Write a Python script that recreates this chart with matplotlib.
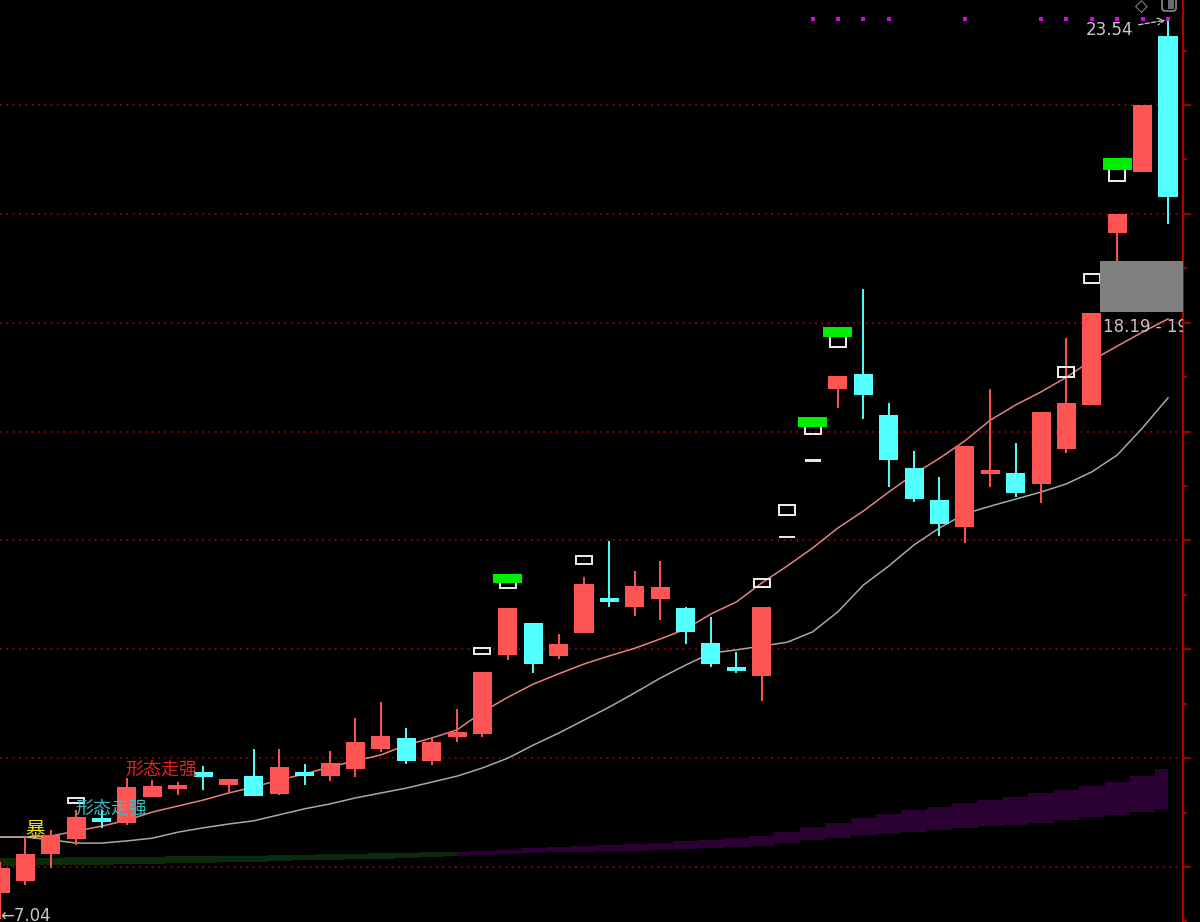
import numpy as np
import matplotlib.pyplot as plt
import matplotlib.transforms as mtransforms
from matplotlib.patches import Rectangle, FancyBboxPatch
from matplotlib.ticker import MultipleLocator

plt.rcParams['font.family'] = ['Noto Sans CJK SC', 'DejaVu Sans']

# 日K (元)
opens = [7.52, 7.74, 8.24, 8.51, 8.88, 8.81, 9.29, 9.45, 9.75, 9.51,
         9.67, 9.34, 9.73, 9.67, 9.80, 10.17, 10.37, 9.95, 10.39, 10.44,
         11.90, 12.48, 11.88, 12.30, 12.92, 12.78, 12.92, 12.76, 12.12, 11.67,
         11.51, 14.06, 15.47, 16.78, 17.05, 16.30, 15.33, 14.74, 14.25, 15.22,
         15.24, 15.04, 15.68, 16.49, 19.65, 20.77, 23.27]
closes = [7.98, 8.24, 8.59, 8.92, 8.85, 9.47, 9.49, 9.49, 9.65, 9.62,
          9.30, 9.84, 9.69, 9.91, 10.30, 10.41, 9.95, 10.30, 10.48, 11.58,
          12.76, 11.73, 12.10, 13.20, 12.89, 13.16, 13.14, 12.32, 11.73, 11.60,
          12.78, 14.06, 15.47, 17.02, 16.67, 15.48, 14.76, 14.30, 15.73, 15.29,
          14.87, 16.36, 16.53, 18.18, 20.00, 22.00, 20.31]
highs = [8.09, 8.55, 8.68, 9.05, 9.05, 9.63, 9.60, 9.56, 9.86, 9.62,
         10.17, 10.17, 9.89, 10.13, 10.74, 11.03, 10.55, 10.37, 10.90, 11.58,
         12.76, 12.48, 12.28, 13.33, 13.99, 13.44, 13.62, 12.78, 12.59, 11.95,
         12.78, 14.06, 15.47, 17.02, 18.62, 16.53, 15.64, 15.17, 15.73, 16.78,
         15.79, 16.36, 17.72, 18.18, 20.00, 22.00, 23.54]
lows = [7.04, 7.67, 7.98, 8.40, 8.72, 8.77, 9.29, 9.32, 9.41, 9.36,
        9.30, 9.32, 9.51, 9.58, 9.65, 10.11, 9.89, 9.87, 10.30, 10.39,
        11.80, 11.56, 11.82, 12.30, 12.78, 12.61, 12.54, 12.10, 11.67, 11.56,
        11.05, 14.06, 15.47, 16.43, 16.23, 14.98, 14.71, 14.08, 13.95, 14.98,
        14.80, 14.69, 15.61, 16.49, 19.14, 20.77, 19.81]

# 均线
ma_short = [8.55, 8.55, 8.57, 8.66, 8.75, 8.86, 9.01, 9.12, 9.23, 9.36,
            9.47, 9.60, 9.71, 9.84, 9.95, 10.06, 10.24, 10.37, 10.52, 10.85,
            11.12, 11.36, 11.55, 11.73, 11.88, 12.02, 12.19, 12.37, 12.65, 12.87,
            13.22, 13.53, 13.86, 14.23, 14.54, 14.89, 15.22, 15.51, 15.83, 16.21,
            16.49, 16.73, 17.00, 17.31, 17.57, 17.83, 18.07]
ma_long = [8.55, 8.55, 8.50, 8.44, 8.44, 8.48, 8.53, 8.64, 8.72, 8.79,
           8.85, 8.96, 9.07, 9.16, 9.27, 9.36, 9.45, 9.56, 9.67, 9.82,
           10.00, 10.24, 10.46, 10.70, 10.94, 11.20, 11.47, 11.71, 11.93, 11.99,
           12.06, 12.13, 12.32, 12.69, 13.18, 13.53, 13.92, 14.23, 14.49, 14.63,
           14.76, 14.89, 15.04, 15.26, 15.57, 16.07, 16.62]

# 底部色带
band_hi = [8.16, 8.16, 8.16, 8.18, 8.18, 8.18, 8.18, 8.20, 8.20, 8.20,
           8.20, 8.22, 8.22, 8.24, 8.24, 8.26, 8.26, 8.28, 8.28, 8.29,
           8.31, 8.35, 8.37, 8.39, 8.40, 8.42, 8.44, 8.48, 8.50, 8.53,
           8.57, 8.64, 8.73, 8.81, 8.90, 8.97, 9.05, 9.10, 9.18, 9.23,
           9.29, 9.36, 9.41, 9.49, 9.56, 9.67, 9.80]
band_lo = [8.02, 8.02, 8.04, 8.04, 8.04, 8.05, 8.05, 8.07, 8.07, 8.09,
           8.09, 8.11, 8.13, 8.13, 8.15, 8.15, 8.16, 8.18, 8.20, 8.22,
           8.24, 8.26, 8.28, 8.28, 8.29, 8.29, 8.31, 8.33, 8.35, 8.37,
           8.39, 8.44, 8.50, 8.53, 8.59, 8.61, 8.64, 8.68, 8.72, 8.75,
           8.77, 8.81, 8.86, 8.92, 8.96, 9.01, 9.07]
band_split = 18

# 信号
white_idx = [3, 19, 20, 23, 30, 31, 32, 33, 42, 43, 44]
white_lo = [9.18, 11.91, 13.13, 13.57, 13.14, 14.47, 15.96, 17.55, 17.00, 18.73, 20.60]
white_hi = [9.27, 12.02, 13.25, 13.71, 13.29, 14.65, 16.14, 17.79, 17.19, 18.89, 20.86]
green_idx = [20, 32, 33, 44]
green_lo = [13.22, 16.08, 17.74, 20.81]
green_hi = [13.38, 16.27, 17.92, 21.03]
dot_idx = [32, 33, 34, 35, 38, 41, 42, 43, 44, 45, 46]

gap_from = 43
gap_lo, gap_hi = 18.19, 19.14

up_color = '#ff5454'
down_color = '#54ffff'
flat_color = '#e6e6e6'

fig = plt.figure(figsize=(12, 9.22), dpi=100, facecolor='black')
ax = fig.add_axes([0, 0, 1183 / 1200, 1], facecolor='black')

n = len(closes)
x = np.arange(n)
o = np.array(opens)
c = np.array(closes)

# 色带
ax.fill_between(x[:band_split + 1], band_lo[:band_split + 1], band_hi[:band_split + 1],
                step='mid', color='#0c2a0c', linewidth=0, zorder=1)
ax.fill_between(x[band_split:], band_lo[band_split:], band_hi[band_split:],
                step='mid', color='#2b0033', linewidth=0, zorder=1)

# 均线
ax.plot(x, ma_short, color='#e88080', lw=1.1, zorder=2)
ax.plot(x, ma_long, color='#a8a8a8', lw=1.1, zorder=2)

# K线
cols = [up_color if c[i] > o[i] else down_color if c[i] < o[i] else flat_color for i in range(n)]
flat = c == o
ax.vlines(x[~flat], np.array(lows)[~flat], np.array(highs)[~flat],
          colors=[cols[i] for i in range(n) if not flat[i]], lw=1.4, zorder=3)
body_h = np.maximum(np.abs(c - o), 0.07)
body_b = np.where(np.abs(c - o) < 0.07, (o + c) / 2 - 0.035, np.minimum(o, c))
widths = np.where(flat, 0.63, 0.75)
body_h = np.where(flat, 0.04, body_h)
body_b = np.where(flat, o - 0.02, body_b)
ax.bar(x, body_h, bottom=body_b, width=widths, color=cols, linewidth=0, zorder=3)

# 信号框
ax.bar(white_idx, np.array(white_hi) - np.array(white_lo), bottom=white_lo, width=0.63,
       facecolor='none', edgecolor='#f0f0f0', lw=1.4, zorder=4)
ax.bar(green_idx, np.array(green_hi) - np.array(green_lo), bottom=green_lo, width=1.14,
       color='#00ee00', linewidth=0, zorder=5)

trans = mtransforms.blended_transform_factory(ax.transData, ax.transAxes)
ax.scatter(dot_idx, [1 - 19 / 922] * len(dot_idx), transform=trans, marker='s', s=10,
           color='#e000e0', linewidths=0, zorder=6, clip_on=False)

# 缺口
ax.add_patch(Rectangle((gap_from + 0.33, gap_lo), 4, gap_hi - gap_lo,
                       facecolor='#808080', edgecolor='none', zorder=4))
ax.text(gap_from + 0.44, gap_lo - 0.27, f"{gap_lo:.2f} - {gap_hi:.2f}", color='#c4c4c4',
        fontsize=12, family='DejaVu Sans', va='center', ha='left', zorder=6, clip_on=True)

# 最高/最低
i_hi = int(np.argmax(highs))
i_lo = int(np.argmin(lows))
ax.annotate(f"{highs[i_hi]:.2f}", xy=(i_hi - 0.1, highs[i_hi] + 0.02),
            xytext=(44.62, highs[i_hi] - 0.16), ha='right', va='center',
            color='#c8c8c8', fontsize=12, family='DejaVu Sans', zorder=7,
            arrowprops=dict(arrowstyle='->', color='#c8c8c8', lw=0.9, linestyle='--',
                            shrinkA=2, shrinkB=0))
ax.text(i_lo + 0.02, lows[i_lo] + 0.06, f"←{lows[i_lo]:.2f}", color='#c8c8c8',
        fontsize=12, family='DejaVu Sans', ha='left', va='center', zorder=7)

# 文字信号
ax.text(1.0, 8.68, "暴", color='#f0e000', fontsize=14, ha='left', va='center', zorder=7)
ax.text(2.95, 9.08, "形态走强", color='#3cbcc4', fontsize=13, ha='left', va='center', zorder=7)
ax.text(4.92, 9.78, "形态走强", color='#e82020', fontsize=13, ha='left', va='center', zorder=7)

# 坐标轴
ax.set_xlim(0, 46.59)
ax.set_ylim(6.99, 23.93)
ax.set_xticks([])
ax.yaxis.set_major_locator(MultipleLocator(2))
ax.yaxis.set_minor_locator(MultipleLocator(1))
ax.tick_params(axis='y', which='both', left=False, right=True, labelleft=False,
               labelright=False, direction='out', color='#b00000')
ax.tick_params(axis='y', which='major', length=6, width=1.3)
ax.tick_params(axis='y', which='minor', length=3, width=1.3)
for side in ['left', 'top', 'bottom']:
    ax.spines[side].set_visible(False)
ax.spines['right'].set_color('#b00000')
ax.spines['right'].set_linewidth(1.5)
ax.grid(axis='y', which='major', color='#9a0000', linestyle=(0, (1, 2.5)), lw=1.3)
ax.set_axisbelow(True)

# 右上角图标
fig.text(1141 / 1200, 1 - 7 / 922, "◇", color='#9a9a9a', fontsize=12,
         ha='center', va='center', family='DejaVu Sans')
fig.patches.append(FancyBboxPatch((1162 / 1200, 1 - 11 / 922), 14 / 1200, 14 / 922,
                                  boxstyle='round,pad=0,rounding_size=0.003',
                                  transform=fig.transFigure, facecolor='none',
                                  edgecolor='#8a8a8a', lw=1.2))
fig.patches.append(Rectangle((1168 / 1200, 1 - 9 / 922), 6 / 1200, 12 / 922,
                             transform=fig.transFigure, facecolor='#6a6a6a', edgecolor='none'))

fig.savefig('out.png', dpi=100, facecolor='black')
